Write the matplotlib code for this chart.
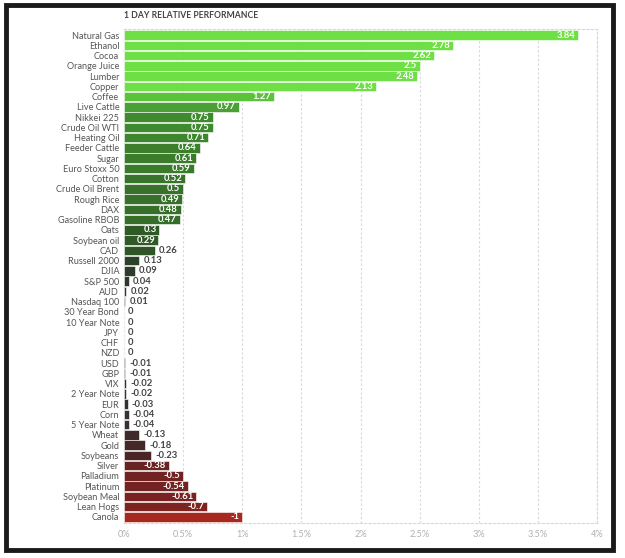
import numpy as np
import matplotlib
matplotlib.use("Agg")
import matplotlib.pyplot as plt
from matplotlib.colors import to_rgb
from matplotlib.patches import Rectangle

plt.rcParams['font.family'] = ['Lato', 'DejaVu Sans']

names = ["Natural Gas", "Ethanol", "Cocoa", "Orange Juice", "Lumber", "Copper",
         "Coffee", "Live Cattle", "Nikkei 225", "Crude Oil WTI", "Heating Oil",
         "Feeder Cattle", "Sugar", "Euro Stoxx 50", "Cotton", "Crude Oil Brent",
         "Rough Rice", "DAX", "Gasoline RBOB", "Oats", "Soybean oil", "CAD",
         "Russell 2000", "DJIA", "S&P 500", "AUD", "Nasdaq 100", "30 Year Bond",
         "10 Year Note", "JPY", "CHF", "NZD", "USD", "GBP", "VIX", "2 Year Note",
         "EUR", "Corn", "5 Year Note", "Wheat", "Gold", "Soybeans", "Silver",
         "Palladium", "Platinum", "Soybean Meal", "Lean Hogs", "Canola"]
values = [3.84, 2.78, 2.62, 2.5, 2.48, 2.13,
          1.27, 0.97, 0.75, 0.75, 0.71,
          0.64, 0.61, 0.59, 0.52, 0.5,
          0.49, 0.48, 0.47, 0.3, 0.29, 0.26,
          0.13, 0.09, 0.04, 0.02, 0.01, 0,
          0, 0, 0, 0, -0.01, -0.01, -0.02, -0.02,
          -0.03, -0.04, -0.04, -0.13, -0.18, -0.23, -0.38,
          -0.5, -0.54, -0.61, -0.7, -1]
xticks = [0, 0.5, 1, 1.5, 2, 2.5, 3, 3.5, 4]

# colour scale: value -> colour, linear between these stops
scale_vals = [-1.0, -0.7, -0.38, -0.23, -0.13, 0.0, 0.1, 0.3, 0.5, 0.75, 1.0, 1.3, 2.0]
scale_cols = ["#a8271f", "#7e2420", "#682222", "#4b2626", "#3e2a2a", "#333333",
              "#2c3d2a", "#2f5a26", "#37712a", "#3f8a2e", "#4ba335", "#5cc63b", "#6ee046"]
scale_rgb = np.array([to_rgb(c) for c in scale_cols])

def bar_color(v):
    v = float(np.clip(v, scale_vals[0], scale_vals[-1]))
    return tuple(np.interp(v, scale_vals, scale_rgb[:, k]) for k in range(3))

fig = plt.figure(figsize=(6.25, 5.58), dpi=100)
ax = fig.add_axes([124 / 625, 1 - 523 / 558, (597 - 124) / 625, (523 - 29) / 558])

y = np.arange(len(names))
absvals = np.abs(values)
cols = [bar_color(v) for v in values]
ax.barh(y, absvals, height=0.92, color=cols, edgecolor="white", linewidth=0.4, zorder=3)

for i, v in enumerate(values):
    lab = f"{v:g}"
    a = abs(v)
    if a >= 0.28:
        ax.annotate(lab, (a, i), xytext=(-2, 0), textcoords="offset points",
                    ha="right", va="center", fontsize=6.8, fontweight="bold",
                    color="white", zorder=4)
    else:
        ax.annotate(lab, (a, i), xytext=(3, 0), textcoords="offset points",
                    ha="left", va="center", fontsize=6.8, fontweight="bold",
                    color="#444444", zorder=4)

ax.set_xlim(0, 4)
ax.set_ylim(len(names) - 0.4, -0.6)
ax.set_yticks(y)
ax.set_yticklabels(names, fontsize=6.6, color="#555555")
ax.set_xticks(xticks)
ax.set_xticklabels([f"{t:g}%" for t in xticks], fontsize=6.6, color="#b0b0b0")
ax.tick_params(length=0, pad=3.5)
ax.tick_params(axis="x", pad=5)
ax.grid(axis="x", color="#d8d8d8", linestyle=(0, (2, 2)), linewidth=0.8, zorder=0)
for s in ax.spines.values():
    s.set_color("#d8d8d8")
    s.set_linestyle((0, (2, 2)))
    s.set_linewidth(0.8)

fig.text(124 / 625, 1 - 16 / 558, "1 DAY RELATIVE PERFORMANCE", fontsize=6.2,
         fontweight="bold", color="#444444", va="center", ha="left")

# dark frame around the card
fig.patches.append(Rectangle((6 / 625, 8 / 558), (613 - 6) / 625, (553 - 8) / 558,
                             transform=fig.transFigure, fill=False,
                             edgecolor="#1a1a1a", linewidth=3.5))

fig.savefig("out.png", dpi=100, facecolor="white")
